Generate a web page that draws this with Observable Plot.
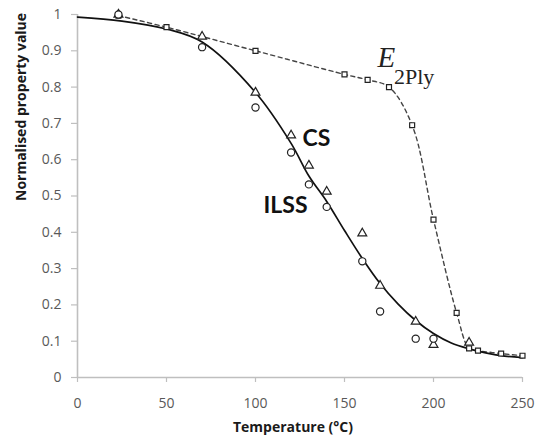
<!DOCTYPE html>
<html>
<head>
<meta charset="utf-8">
<script src="https://cdn.jsdelivr.net/npm/d3@7"></script>
<script src="https://cdn.jsdelivr.net/npm/@observablehq/plot@0.6"></script>
<style>
  html, body { margin: 0; padding: 0; background: #fff; }
</style>
</head>
<body>
<div id="chart"></div>
<script>
// ILSS measurements (circles)
const ilssTemp  = [23, 70, 100, 120, 130, 140, 160, 170, 190, 200];
const ilssValue = [1.0, 0.91, 0.744, 0.62, 0.532, 0.47, 0.32, 0.182, 0.107, 0.107];

// CS measurements (triangles)
const csTemp  = [23, 70, 100, 120, 130, 140, 160, 170, 190, 200, 220];
const csValue = [1.0, 0.939, 0.785, 0.667, 0.584, 0.512, 0.397, 0.253, 0.154, 0.09, 0.096];

// E2Ply measurements (squares, dashed line)
const e2Temp  = [23, 50, 100, 150, 163, 175, 188, 200, 213, 220, 225, 238, 250];
const e2Value = [0.997, 0.965, 0.90, 0.835, 0.82, 0.80, 0.695, 0.435, 0.178, 0.08, 0.074, 0.066, 0.06];

// Fitted curve for CS / ILSS (solid line)
const fitTemp  = [0, 25, 50, 70, 100, 120, 130, 140, 150, 160, 170, 180, 190, 200, 210, 220, 230, 240, 250];
const fitValue = [0.993, 0.982, 0.96, 0.924, 0.785, 0.645, 0.555, 0.485, 0.405, 0.328, 0.259, 0.203, 0.157, 0.121, 0.095, 0.079, 0.067, 0.059, 0.055];

// Axis ticks
const xTicks = [0, 50, 100, 150, 200, 250];
const yTicks = [0, 0.1, 0.2, 0.3, 0.4, 0.5, 0.6, 0.7, 0.8, 0.9, 1];
const xTickLabels = ["0", "50", "100", "150", "200", "250"];
const yTickLabels = ["0", "0.1", "0.2", "0.3", "0.4", "0.5", "0.6", "0.7", "0.8", "0.9", "1"];

// Texts
const xTitle = "Temperature (°C)";
const yTitle = "Normalised property value";
const seriesLabels = [
  {text: "CS",   x: 126.4, y: 0.639},
  {text: "ILSS", x: 104.5, y: 0.452}
];
const e2Label = {main: "E", sub: "2Ply", x: 168.5, y: 0.854, subX: 177.8, subY: 0.809};

const zip = (xs, ys) => xs.map((x, i) => ({x, y: ys[i]}));
const ilss = zip(ilssTemp, ilssValue);
const cs = zip(csTemp, csValue);
const e2 = zip(e2Temp, e2Value);
const fit = zip(fitTemp, fitValue);

const axisGrey = "#bfbfbf";
const labelGrey = "#595959";
const sans = "Lato, 'Open Sans', sans-serif";
const axisFont = "'Open Sans', Lato, sans-serif";

const chart = Plot.plot({
  width: 536,
  height: 445,
  marginLeft: 77,
  marginRight: 14,
  marginTop: 14,
  marginBottom: 68,
  style: {fontFamily: axisFont, background: "#fff"},
  x: {domain: [0, 250]},
  y: {domain: [0, 1]},
  marks: [
    Plot.axisX({
      ticks: xTicks, tickSize: 5, tickPadding: 16,
      tickFormat: d => xTickLabels[xTicks.indexOf(d)],
      stroke: axisGrey, strokeWidth: 1.2, fill: labelGrey, fontSize: 14, label: null
    }),
    Plot.axisY({
      ticks: yTicks, tickSize: 6, tickPadding: 10,
      tickFormat: d => yTickLabels[yTicks.indexOf(d)],
      stroke: axisGrey, strokeWidth: 1.2, fill: labelGrey, fontSize: 14, label: null
    }),
    Plot.ruleY([0], {stroke: axisGrey, strokeWidth: 1.6}),
    Plot.ruleX([0], {stroke: axisGrey, strokeWidth: 1.6}),
    Plot.line(e2, {x: "x", y: "y", curve: "catmull-rom", stroke: "#444", strokeWidth: 1.4, strokeDasharray: "4,3.5"}),
    Plot.line(fit, {x: "x", y: "y", curve: "catmull-rom", stroke: "#111", strokeWidth: 1.7}),
    Plot.dot(e2, {x: "x", y: "y", symbol: "square", r: 2.8, stroke: "#222", fill: "#fff", strokeWidth: 1.2}),
    Plot.dot(cs, {x: "x", y: "y", symbol: "triangle", r: 3.3, stroke: "#222", fill: "#fff", strokeWidth: 1.2}),
    Plot.dot(ilss, {x: "x", y: "y", symbol: "circle", r: 3.6, stroke: "#222", fill: "#fff", strokeWidth: 1.2}),
    Plot.text(seriesLabels, {x: "x", y: "y", text: "text", textAnchor: "start", lineAnchor: "bottom",
      fontSize: 23, fontWeight: "bold", fill: "#111", fontFamily: sans}),
    Plot.text([e2Label], {x: "x", y: "y", text: "main", textAnchor: "start", lineAnchor: "bottom",
      fontSize: 29, fontStyle: "italic", fontFamily: "'Liberation Serif', serif", fill: "#222"}),
    Plot.text([e2Label], {x: "subX", y: "subY", text: "sub", textAnchor: "start", lineAnchor: "bottom",
      fontSize: 22, fontFamily: "'Liberation Serif', serif", fill: "#222"}),
    Plot.text([xTitle], {text: d => d, frameAnchor: "bottom", dy: 54, dx: -7,
      fontSize: 14, fontWeight: "bold", fill: "#1a1a1a", fontFamily: axisFont}),
    Plot.text([yTitle], {text: d => d, frameAnchor: "left", dx: -56, dy: 5, rotate: -90,
      fontSize: 14, fontWeight: "bold", fill: "#1a1a1a", fontFamily: axisFont})
  ]
});

document.getElementById("chart").appendChild(chart);
</script>
</body>
</html>
